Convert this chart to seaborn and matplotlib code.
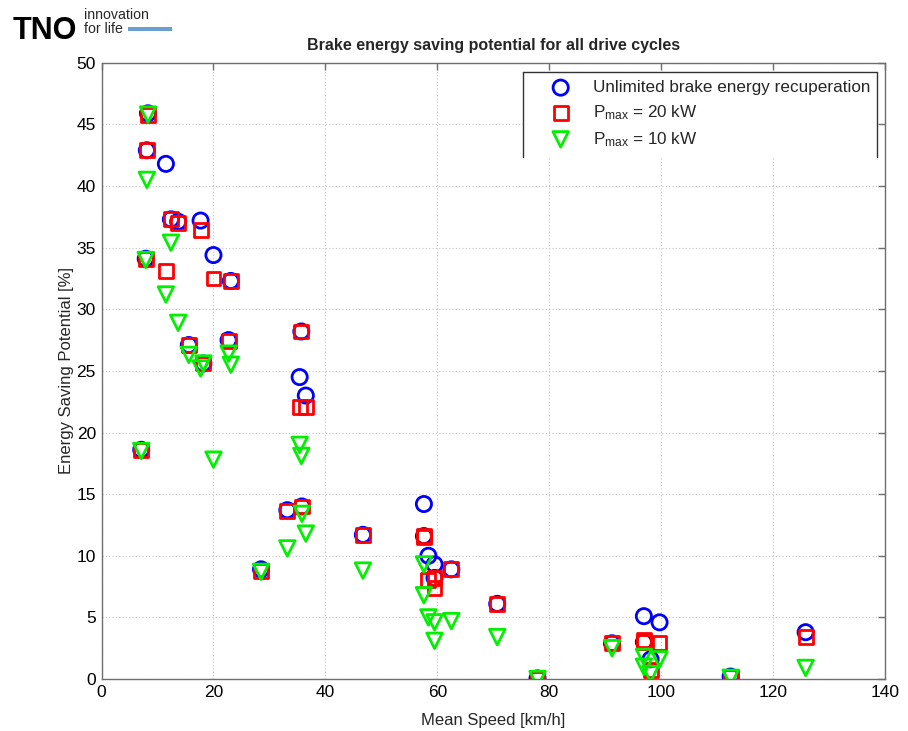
import matplotlib
matplotlib.use("Agg")
import matplotlib.pyplot as plt
import seaborn as sns
import pandas as pd
from matplotlib.lines import Line2D
from matplotlib.patches import Rectangle

# ---- data ----
mean_speed = [8.3, 8.1, 11.5, 12.4, 13.7, 17.7, 20.0, 23.1, 7.9, 15.6,
              18.2, 22.7, 35.7, 35.4, 36.5, 7.1, 28.5, 33.2, 35.8, 46.7,
              57.6, 57.6, 58.4, 59.5, 59.5, 62.5, 70.7, 77.9, 91.2, 96.9,
              96.9, 99.7, 98.1, 112.4, 125.8]
unlimited = [45.9, 42.9, 41.8, 37.3, 37.1, 37.2, 34.4, 32.3, 34.1, 27.1,
             25.6, 27.5, 28.2, 24.5, 23.0, 18.6, 8.9, 13.7, 14.0, 11.7,
             14.2, 11.6, 10.0, 9.3, 8.2, 8.9, 6.1, 0.05, 2.9, 5.1,
             3.0, 4.6, 1.6, 0.2, 3.8]
pmax20 = [45.8, 42.9, 33.1, 37.3, 37.0, 36.4, 32.5, 32.3, 34.1, 27.1,
          25.6, 27.4, 28.2, 22.1, 22.1, 18.6, 8.8, 13.6, 14.0, 11.7,
          11.6, 11.5, 8.0, 7.4, 8.2, 8.9, 6.1, 0.0, 2.9, 3.2,
          3.0, 2.9, 0.7, 0.15, 3.4]
pmax10 = [45.8, 40.5, 31.2, 35.4, 28.9, 25.2, 17.8, 25.5, 34.0, 26.3,
          25.6, 26.4, 18.1, 19.0, 11.8, 18.5, 8.7, 10.6, 13.4, 8.8,
          9.3, 6.8, 5.0, 4.6, 3.1, 4.7, 3.4, 0.0, 2.5, 1.8,
          1.0, 1.6, 0.4, 0.1, 0.9]

series_labels = ["Unlimited brake energy recuperation",
                 r"P$_{\mathrm{max}}$ = 20 kW",
                 r"P$_{\mathrm{max}}$ = 10 kW"]
series_colors = ["#0000ff", "#ff0000", "#00f000"]
series_markers = ["o", "s", "v"]

x_ticks = [0, 20, 40, 60, 80, 100, 120, 140]
y_ticks = [0, 5, 10, 15, 20, 25, 30, 35, 40, 45, 50]

sns.set_theme(style="white")
plt.rcParams["font.family"] = ["Liberation Sans", "DejaVu Sans"]
plt.rcParams["mathtext.fontset"] = "custom"
plt.rcParams["mathtext.rm"] = "Liberation Sans"
plt.rcParams["mathtext.it"] = "Liberation Sans"

fig = plt.figure(figsize=(9.08, 7.31), dpi=100)
ax = fig.add_axes([0.1118, 0.0711, 0.863, 0.843])

df = pd.DataFrame({"speed": mean_speed, "u": unlimited, "p20": pmax20, "p10": pmax10})
for col, lab, colr, mk, sz in zip(["u", "p20", "p10"], series_labels,
                                  series_colors, series_markers, [120, 100, 125]):
    sns.scatterplot(data=df, x="speed", y=col, marker=mk, s=sz,
                    facecolor="none", edgecolor=colr, linewidth=2.0,
                    ax=ax, label=lab, zorder=3)

ax.set_xlim(0, 140)
ax.set_ylim(0, 50)
ax.set_xticks(x_ticks)
ax.set_yticks(y_ticks)
ax.grid(True, linestyle=(0, (1, 2)), color="#c8c8c8", linewidth=0.8)
for sp in ax.spines.values():
    sp.set_color("#6e6e6e")
    sp.set_linewidth(1.0)
ax.tick_params(direction="in", length=5, width=1, color="#6e6e6e",
               top=True, right=True, labelsize=12.5, labelcolor="black", pad=4)
ax.set_xlabel("Mean Speed [km/h]", fontsize=12, labelpad=9.5)
ax.set_ylabel("Energy Saving Potential [%]", fontsize=12, labelpad=2)
ax.set_title("Brake energy saving potential for all drive cycles",
             fontsize=11.5, fontweight="bold", pad=9)

leg = ax.legend(loc="upper left", bbox_to_anchor=(0.538, 0.983),
                borderaxespad=0.0, frameon=False, fontsize=12.3,
                handletextpad=0.1, handlelength=3.6,
                labelspacing=0.47, borderpad=0.4)
# legend box (clipped at the bottom like the reference)
for xs, ys in [([0.538, 0.538], [0.985, 0.847]),
               ([0.990, 0.990], [0.985, 0.847]),
               ([0.538, 0.990], [0.985, 0.985])]:
    ax.add_line(Line2D(xs, ys, transform=ax.transAxes, color="#333333",
                       linewidth=1.0, zorder=5))
ax.add_patch(Rectangle((0.538, 0.847), 0.452, 0.138, transform=ax.transAxes,
                       facecolor="white", edgecolor="none", zorder=2.5))

# TNO logo
fig.text(0.014, 0.958, "TNO", fontsize=22, fontweight="heavy",
         color="black", va="center", ha="left")
fig.text(0.092, 0.979, "innovation", fontsize=10.2, va="center", ha="left")
fig.text(0.092, 0.961, "for life", fontsize=10.2, va="center", ha="left")
fig.patches.append(Rectangle((0.141, 0.9576), 0.048, 0.0058, transform=fig.transFigure,
                             facecolor="#6a9fd2", edgecolor="none"))

fig.savefig("out.png", dpi=100)
